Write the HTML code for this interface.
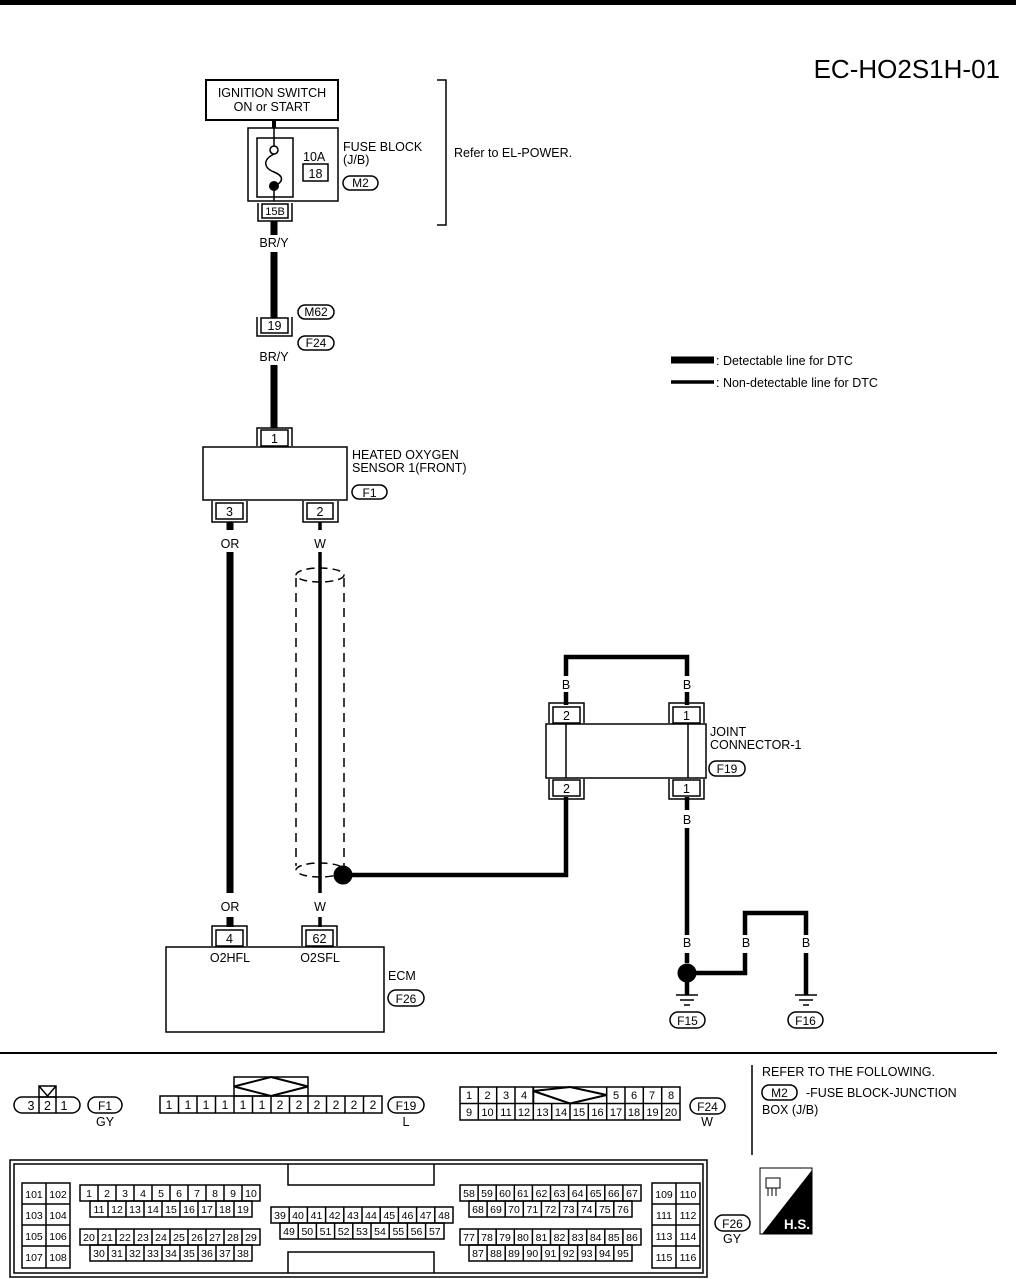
<!DOCTYPE html>
<html><head><meta charset="utf-8"><style>
html,body{margin:0;padding:0;background:#fff}
svg{display:block}
text{font-family:"Liberation Sans",sans-serif;fill:#000}
</style></head><body>
<svg width="1016" height="1279" viewBox="0 0 1016 1279" xmlns="http://www.w3.org/2000/svg">
<rect x="0" y="0" width="1016" height="5" fill="#000"/>
<text x="1000" y="78" font-size="26" text-anchor="end">EC-HO2S1H-01</text>

<g fill="none" stroke="#000">
<rect x="206" y="80" width="132" height="40" stroke-width="2"/>
<line x1="274" y1="120" x2="274" y2="128" stroke-width="4"/>
<rect x="248" y="128" width="90" height="73" stroke-width="1.5"/>
<rect x="257" y="138" width="36" height="59" stroke-width="1.5"/>
<line x1="274" y1="128" x2="274" y2="146" stroke-width="1.5"/>
<circle cx="274" cy="150" r="4" fill="#fff" stroke-width="1.5"/>
<path d="M274 154 C262 160,264 168,274 172 C284 176,284 182,274 186" stroke-width="1.5"/>
<circle cx="274" cy="186" r="4.5" fill="#000"/>
<line x1="274" y1="190" x2="274" y2="201" stroke-width="1.5"/>
<rect x="303" y="164" width="25" height="17" stroke-width="1.5"/>
<rect x="262" y="204" width="26" height="14" stroke-width="1.5"/>
<path d="M258 203v18h34v-18" stroke-width="1.5"/>
<path d="M274 221v14M274 252v66" stroke-width="7"/>
<rect x="343" y="176" width="35" height="14" rx="7" stroke-width="1.5"/>
<path d="M437 80h9v145h-9" stroke-width="1.5"/>

<rect x="261" y="318" width="27" height="15" stroke-width="1.5"/>
<path d="M257 317v19h35v-19" stroke-width="1.5"/>
<rect x="298" y="305" width="36" height="14" rx="7" stroke-width="1.5"/>
<rect x="298" y="336" width="36" height="14" rx="7" stroke-width="1.5"/>
<path d="M274 365v63" stroke-width="7"/>

<line x1="671" y1="360" x2="714" y2="360" stroke-width="7"/>
<line x1="671" y1="382" x2="714" y2="382" stroke-width="3.5"/>

<rect x="261" y="430" width="27" height="16" stroke-width="1.5"/>
<path d="M257 446v-18h35v18" stroke-width="1.5"/>
<rect x="203" y="447" width="144" height="53" stroke-width="1.5"/>
<rect x="352" y="485" width="35" height="14" rx="7" stroke-width="1.5"/>
<rect x="216" y="503" width="27" height="16" stroke-width="1.5"/>
<path d="M212 501v21h35v-21" stroke-width="1.5"/>
<rect x="307" y="503" width="26" height="16" stroke-width="1.5"/>
<path d="M303 501v21h35v-21" stroke-width="1.5"/>
<path d="M230 522v8M230 552v341M230 917v10" stroke-width="7"/>
<path d="M320 522v8M320 552v341M320 917v10" stroke-width="3.5"/>
<path d="M296 578V866M344 578V866" stroke-width="1.5" stroke-dasharray="9,6"/>
<ellipse cx="320" cy="575" rx="24" ry="7" stroke-width="1.5" stroke-dasharray="8,5"/>
<ellipse cx="320" cy="870" rx="24" ry="7" stroke-width="1.5" stroke-dasharray="8,5"/>
<circle cx="343" cy="875" r="9" fill="#000"/>
<path d="M352 875H566V797" stroke-width="4.5"/>

<path d="M566 676V657H687V676" stroke-width="4.5"/>
<path d="M566 692v13M687 692v13M687 797v13M687 828v107M687 953v10" stroke-width="4.5"/>
<rect x="553" y="707" width="27" height="16" stroke-width="1.5"/>
<path d="M549 723v-20h35v20" stroke-width="1.5"/>
<rect x="673" y="707" width="27" height="16" stroke-width="1.5"/>
<path d="M669 723v-20h35v20" stroke-width="1.5"/>
<rect x="546" y="724" width="160" height="54" stroke-width="1.5"/>
<path d="M566 724v54M688 724v54" stroke-width="1.5"/>
<rect x="553" y="780" width="27" height="16" stroke-width="1.5"/>
<path d="M549 779v20h35v-20" stroke-width="1.5"/>
<rect x="673" y="780" width="27" height="16" stroke-width="1.5"/>
<path d="M669 779v20h35v-20" stroke-width="1.5"/>
<rect x="709" y="761" width="36" height="15" rx="7" stroke-width="1.5"/>

<circle cx="687" cy="973" r="9" fill="#000"/>
<path d="M696 973H745V953" stroke-width="4.5"/>
<path d="M745 935V913H806V935" stroke-width="4.5"/>
<path d="M806 953V995M687 982V995" stroke-width="4.5"/>
<path d="M676 995h22M680 1000h14M684 1005h6M795 995h22M799 1000h14M803 1005h6" stroke-width="1.5"/>
<rect x="670" y="1012" width="35" height="16" rx="8" stroke-width="1.5"/>
<rect x="788" y="1012" width="35" height="16" rx="8" stroke-width="1.5"/>

<rect x="216" y="930" width="27" height="16" stroke-width="1.5"/>
<path d="M212 946v-20h35v20" stroke-width="1.5"/>
<rect x="306" y="930" width="27" height="16" stroke-width="1.5"/>
<path d="M302 946v-20h35v20" stroke-width="1.5"/>
<rect x="166" y="947" width="218" height="85" stroke-width="1.5"/>
<rect x="388" y="990" width="36" height="16" rx="8" stroke-width="1.5"/>

<line x1="0" y1="1053" x2="997" y2="1053" stroke-width="2"/>
<line x1="752" y1="1065" x2="752" y2="1155" stroke-width="1.5"/>
<rect x="762" y="1085" width="35" height="15" rx="7" stroke-width="1.5"/>

<path d="M22 1097h50a8 8 0 0 1 0 16h-50a8 8 0 0 1 0-16z" stroke-width="1.5"/>
<path d="M39 1097v16M56 1097v16" stroke-width="1.5"/>
<path d="M39 1086h17v11h-17z M39 1086l8.5 10 8.5-10" stroke-width="1.5"/>
<rect x="88" y="1097" width="34" height="16" rx="8" stroke-width="1.5"/>

<rect x="160" y="1096" width="222" height="17" stroke-width="1.5"/>
<path d="M178.5 1096v17M197 1096v17M215.5 1096v17M234 1096v17M252.5 1096v17M271 1096v17M289.5 1096v17M308 1096v17M326.5 1096v17M345 1096v17M363.5 1096v17" stroke-width="1.5"/>
<rect x="234" y="1077" width="74" height="19" stroke-width="1.5"/>
<path d="M234 1086.5L271 1077L308 1086.5L271 1096Z" stroke-width="2"/>
<rect x="388" y="1097" width="36" height="16" rx="8" stroke-width="1.5"/>

<rect x="460" y="1087" width="220" height="33" stroke-width="1.5"/>
<path d="M460 1103.5h220" stroke-width="1.5"/>
<path d="M478.3 1087v33M496.7 1087v33M515 1087v33M533.3 1103.5v16.5M551.7 1103.5v16.5M570 1103.5v16.5M588.3 1103.5v16.5M606.7 1087v33M625 1087v33M643.3 1087v33M661.7 1087v33" stroke-width="1.5"/>
<path d="M533.3 1087v16.5M533.3 1091L570 1087L606.7 1095L570 1103.5Z" stroke-width="2"/>
<rect x="690" y="1098" width="35" height="16" rx="8" stroke-width="1.5"/>

<rect x="10" y="1160" width="697" height="117" stroke-width="1.5"/>
<rect x="14" y="1164" width="689" height="109" stroke-width="1.5"/>
<path d="M288 1164v21h146v-21M288 1273v-21h146v21" stroke-width="1.5"/>
<rect x="22" y="1183" width="48" height="85" stroke-width="1.5"/>
<path d="M46 1183v85M22 1204h48M22 1225h48M22 1246h48" stroke-width="1.5"/>
<rect x="652" y="1183" width="48" height="85" stroke-width="1.5"/>
<path d="M676 1183v85M652 1204h48M652 1225h48M652 1246h48" stroke-width="1.5"/>
<rect x="80" y="1185" width="180" height="16" stroke-width="1.5"/>
<rect x="90" y="1201" width="162" height="16" stroke-width="1.5"/>
<rect x="80" y="1229" width="180" height="16" stroke-width="1.5"/>
<rect x="90" y="1245" width="162" height="16" stroke-width="1.5"/>
<path d="M98 1185v16M116 1185v16M134 1185v16M152 1185v16M170 1185v16M188 1185v16M206 1185v16M224 1185v16M242 1185v16
M98 1229v16M116 1229v16M134 1229v16M152 1229v16M170 1229v16M188 1229v16M206 1229v16M224 1229v16M242 1229v16
M108 1201v16M126 1201v16M144 1201v16M162 1201v16M180 1201v16M198 1201v16M216 1201v16M234 1201v16
M108 1245v16M126 1245v16M144 1245v16M162 1245v16M180 1245v16M198 1245v16M216 1245v16M234 1245v16" stroke-width="1.5"/>
<rect x="271" y="1207" width="182" height="16" stroke-width="1.5"/>
<rect x="280" y="1223" width="164" height="16" stroke-width="1.5"/>
<path d="M289.2 1207v16M307.4 1207v16M325.6 1207v16M343.8 1207v16M362 1207v16M380.2 1207v16M398.4 1207v16M416.6 1207v16M434.8 1207v16
M298.2 1223v16M316.4 1223v16M334.6 1223v16M352.8 1223v16M371 1223v16M389.2 1223v16M407.4 1223v16M425.6 1223v16" stroke-width="1.5"/>
<rect x="460" y="1185" width="181" height="16" stroke-width="1.5"/>
<rect x="469" y="1201" width="163" height="16" stroke-width="1.5"/>
<rect x="460" y="1229" width="181" height="16" stroke-width="1.5"/>
<rect x="469" y="1245" width="163" height="16" stroke-width="1.5"/>
<path d="M478.1 1185v16M496.2 1185v16M514.3 1185v16M532.4 1185v16M550.5 1185v16M568.6 1185v16M586.7 1185v16M604.8 1185v16M622.9 1185v16
M478.1 1229v16M496.2 1229v16M514.3 1229v16M532.4 1229v16M550.5 1229v16M568.6 1229v16M586.7 1229v16M604.8 1229v16M622.9 1229v16
M487.1 1201v16M505.2 1201v16M523.3 1201v16M541.4 1201v16M559.5 1201v16M577.6 1201v16M595.7 1201v16M613.8 1201v16
M487.1 1245v16M505.2 1245v16M523.3 1245v16M541.4 1245v16M559.5 1245v16M577.6 1245v16M595.7 1245v16M613.8 1245v16" stroke-width="1.5"/>
<rect x="715" y="1215" width="35" height="16" rx="8" stroke-width="1.5"/>
<rect x="760" y="1168" width="52" height="66" stroke-width="1"/>
<path d="M766 1178h14v10h-14z M768 1188v8M772 1188v8M776 1188v8" stroke-width="1"/>
</g>
<path d="M812 1170V1234H762Z" fill="#000"/>
<text x="784" y="1229" font-size="14" font-weight="bold" textLength="26" lengthAdjust="spacingAndGlyphs" style="fill:#fff">H.S.</text>

<g font-size="12.5">
<text x="272" y="97" text-anchor="middle">IGNITION SWITCH</text>
<text x="272" y="111" text-anchor="middle">ON or START</text>
<text x="303" y="161">10A</text>
<text x="315.5" y="178" text-anchor="middle">18</text>
<text x="343" y="151">FUSE BLOCK</text>
<text x="343" y="164">(J/B)</text>
<text x="360.5" y="187" text-anchor="middle" font-size="12">M2</text>
<text x="275" y="215" text-anchor="middle" font-size="11">15B</text>
<text x="274" y="247" text-anchor="middle">BR/Y</text>
<text x="454" y="157">Refer to EL-POWER.</text>
<text x="274.5" y="330" text-anchor="middle">19</text>
<text x="316" y="316" text-anchor="middle" font-size="12">M62</text>
<text x="316" y="347" text-anchor="middle" font-size="12">F24</text>
<text x="274" y="361" text-anchor="middle">BR/Y</text>
<text x="716" y="365">: Detectable line for DTC</text>
<text x="716" y="387">: Non-detectable line for DTC</text>
<text x="274.5" y="443" text-anchor="middle">1</text>
<text x="352" y="459">HEATED OXYGEN</text>
<text x="352" y="472">SENSOR 1(FRONT)</text>
<text x="369.5" y="497" text-anchor="middle" font-size="12">F1</text>
<text x="229.5" y="516" text-anchor="middle">3</text>
<text x="320" y="516" text-anchor="middle">2</text>
<text x="230" y="548" text-anchor="middle">OR</text>
<text x="320" y="548" text-anchor="middle">W</text>
<text x="566" y="689" text-anchor="middle">B</text>
<text x="687" y="689" text-anchor="middle">B</text>
<text x="566.5" y="720" text-anchor="middle">2</text>
<text x="686.5" y="720" text-anchor="middle">1</text>
<text x="710" y="736">JOINT</text>
<text x="710" y="749">CONNECTOR-1</text>
<text x="727" y="773" text-anchor="middle" font-size="12">F19</text>
<text x="566.5" y="793" text-anchor="middle">2</text>
<text x="686.5" y="793" text-anchor="middle">1</text>
<text x="687" y="824" text-anchor="middle">B</text>
<text x="230" y="911" text-anchor="middle">OR</text>
<text x="320" y="911" text-anchor="middle">W</text>
<text x="229.5" y="943" text-anchor="middle">4</text>
<text x="319.5" y="943" text-anchor="middle">62</text>
<text x="230" y="962" text-anchor="middle">O2HFL</text>
<text x="320" y="962" text-anchor="middle">O2SFL</text>
<text x="388" y="980">ECM</text>
<text x="406" y="1003" text-anchor="middle" font-size="12">F26</text>
<text x="687" y="947" text-anchor="middle">B</text>
<text x="746" y="947" text-anchor="middle">B</text>
<text x="806" y="947" text-anchor="middle">B</text>
<text x="687.5" y="1025" text-anchor="middle" font-size="12">F15</text>
<text x="805.5" y="1025" text-anchor="middle" font-size="12">F16</text>
<text x="762" y="1076">REFER TO THE FOLLOWING.</text>
<text x="779.5" y="1097" text-anchor="middle" font-size="12">M2</text>
<text x="806" y="1097">-FUSE BLOCK-JUNCTION</text>
<text x="762" y="1114">BOX (J/B)</text>
<text x="31" y="1110" text-anchor="middle">3</text>
<text x="47.5" y="1110" text-anchor="middle">2</text>
<text x="64" y="1110" text-anchor="middle">1</text>
<text x="105" y="1110" text-anchor="middle" font-size="12">F1</text>
<text x="105" y="1126" text-anchor="middle">GY</text>
<text x="406" y="1110" text-anchor="middle" font-size="12">F19</text>
<text x="406" y="1126" text-anchor="middle">L</text>
<text x="707.5" y="1111" text-anchor="middle" font-size="12">F24</text>
<text x="707" y="1126" text-anchor="middle">W</text>
<text x="732.5" y="1228" text-anchor="middle" font-size="12">F26</text>
<text x="732" y="1243" text-anchor="middle">GY</text>
</g>
<g font-size="12" text-anchor="middle">
<text x="169" y="1109">1</text><text x="188" y="1109">1</text><text x="206" y="1109">1</text><text x="225" y="1109">1</text><text x="243" y="1109">1</text><text x="262" y="1109">1</text><text x="280" y="1109">2</text><text x="299" y="1109">2</text><text x="317" y="1109">2</text><text x="336" y="1109">2</text><text x="354" y="1109">2</text><text x="373" y="1109">2</text>
</g>
<g font-size="11" text-anchor="middle">
<text x="469" y="1099">1</text><text x="487.5" y="1099">2</text><text x="506" y="1099">3</text><text x="524" y="1099">4</text><text x="616" y="1099">5</text><text x="634" y="1099">6</text><text x="652" y="1099">7</text><text x="671" y="1099">8</text>
<text x="469" y="1116">9</text><text x="487.5" y="1116">10</text><text x="506" y="1116">11</text><text x="524" y="1116">12</text><text x="542.5" y="1116">13</text><text x="561" y="1116">14</text><text x="579" y="1116">15</text><text x="597.5" y="1116">16</text><text x="616" y="1116">17</text><text x="634" y="1116">18</text><text x="652.5" y="1116">19</text><text x="671" y="1116">20</text>
</g>
<g font-size="10.5" text-anchor="middle">
<text x="34" y="1198">101</text><text x="58" y="1198">102</text>
<text x="34" y="1219">103</text><text x="58" y="1219">104</text>
<text x="34" y="1240">105</text><text x="58" y="1240">106</text>
<text x="34" y="1261">107</text><text x="58" y="1261">108</text>
<text x="664" y="1198">109</text><text x="688" y="1198">110</text>
<text x="664" y="1219">111</text><text x="688" y="1219">112</text>
<text x="664" y="1240">113</text><text x="688" y="1240">114</text>
<text x="664" y="1261">115</text><text x="688" y="1261">116</text>
<text x="89" y="1197">1</text><text x="107" y="1197">2</text><text x="125" y="1197">3</text><text x="143" y="1197">4</text><text x="161" y="1197">5</text><text x="179" y="1197">6</text><text x="197" y="1197">7</text><text x="215" y="1197">8</text><text x="233" y="1197">9</text><text x="251" y="1197">10</text>
<text x="99" y="1213">11</text><text x="117" y="1213">12</text><text x="135" y="1213">13</text><text x="153" y="1213">14</text><text x="171" y="1213">15</text><text x="189" y="1213">16</text><text x="207" y="1213">17</text><text x="225" y="1213">18</text><text x="243" y="1213">19</text>
<text x="89" y="1241">20</text><text x="107" y="1241">21</text><text x="125" y="1241">22</text><text x="143" y="1241">23</text><text x="161" y="1241">24</text><text x="179" y="1241">25</text><text x="197" y="1241">26</text><text x="215" y="1241">27</text><text x="233" y="1241">28</text><text x="251" y="1241">29</text>
<text x="99" y="1257">30</text><text x="117" y="1257">31</text><text x="135" y="1257">32</text><text x="153" y="1257">33</text><text x="171" y="1257">34</text><text x="189" y="1257">35</text><text x="207" y="1257">36</text><text x="225" y="1257">37</text><text x="243" y="1257">38</text>
<text x="280" y="1219">39</text><text x="298" y="1219">40</text><text x="316.5" y="1219">41</text><text x="334.7" y="1219">42</text><text x="353" y="1219">43</text><text x="371" y="1219">44</text><text x="389.3" y="1219">45</text><text x="407.5" y="1219">46</text><text x="425.7" y="1219">47</text><text x="444" y="1219">48</text>
<text x="289" y="1235">49</text><text x="307.3" y="1235">50</text><text x="325.5" y="1235">51</text><text x="343.7" y="1235">52</text><text x="362" y="1235">53</text><text x="380" y="1235">54</text><text x="398.3" y="1235">55</text><text x="416.5" y="1235">56</text><text x="434.8" y="1235">57</text>
<text x="469" y="1197">58</text><text x="487" y="1197">59</text><text x="505" y="1197">60</text><text x="523" y="1197">61</text><text x="541.5" y="1197">62</text><text x="559.5" y="1197">63</text><text x="577.6" y="1197">64</text><text x="595.7" y="1197">65</text><text x="613.8" y="1197">66</text><text x="632" y="1197">67</text>
<text x="478" y="1213">68</text><text x="496" y="1213">69</text><text x="514" y="1213">70</text><text x="532.4" y="1213">71</text><text x="550.5" y="1213">72</text><text x="568.6" y="1213">73</text><text x="586.7" y="1213">74</text><text x="604.8" y="1213">75</text><text x="623" y="1213">76</text>
<text x="469" y="1241">77</text><text x="487" y="1241">78</text><text x="505" y="1241">79</text><text x="523" y="1241">80</text><text x="541.5" y="1241">81</text><text x="559.5" y="1241">82</text><text x="577.6" y="1241">83</text><text x="595.7" y="1241">84</text><text x="613.8" y="1241">85</text><text x="632" y="1241">86</text>
<text x="478" y="1257">87</text><text x="496" y="1257">88</text><text x="514" y="1257">89</text><text x="532.4" y="1257">90</text><text x="550.5" y="1257">91</text><text x="568.6" y="1257">92</text><text x="586.7" y="1257">93</text><text x="604.8" y="1257">94</text><text x="623" y="1257">95</text>
</g>
</svg>
</body></html>
